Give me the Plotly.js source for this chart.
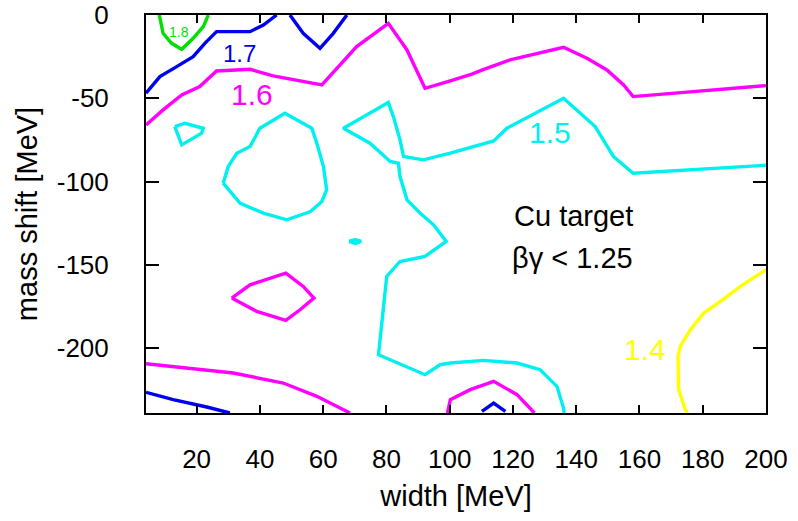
<!DOCTYPE html>
<html>
<head>
<meta charset="utf-8">
<script src="https://cdn.plot.ly/plotly-3.0.1.min.js"></script>
<style>html,body{margin:0;padding:0;background:#fff;}#chart{width:798px;height:521px;}</style>
</head>
<body>
<div id="chart"></div>
<script>
// Contour levels and colours
const levels = ["1.8", "1.7", "1.6", "1.5", "1.4"];
const levelColors = {"1.8": "#00e000", "1.7": "#0000f0", "1.6": "#ff00ff", "1.5": "#00f0f0", "1.4": "#ffff00"};

// Axis ticks
const xTickVals = [20, 40, 60, 80, 100, 120, 140, 160, 180, 200];
const yTickVals = [0, -50, -100, -150, -200];
const yTickText = ["0", "-50", "-100", "-150", "-200"];

// Contour line segments (width [MeV], mass shift [MeV])
const c18_x = [8.2, 9.4, 12.1, 15.3, 18.9, 22.1, 23.7];
const c18_y = [0, -11, -17, -20.6, -14, -7, 0];

const c17a_x = [4, 8.4, 13.7, 18.9, 22.6, 26.3, 36.9, 41.1, 45.3];
const c17a_y = [-47, -37, -31, -25, -17, -10, -10, -6, 0];
const c17b_x = [49.5, 53.7, 59, 63.2, 67.5];
const c17b_y = [0, -11, -20, -11, 0];
const c17c_x = [4, 12.6, 23.2, 30.5];
const c17c_y = [-226.6, -231, -235.4, -239];
const c17d_x = [110.2, 113.9, 117.6];
const c17d_y = [-238, -233, -238];

const c16a_x = [4, 9.4, 15.3, 21, 26.3, 36.9, 44.2, 59.6, 70.6, 80.6, 86.5, 92.2, 100.2, 107, 111, 119.1, 136, 143.4, 149.7, 155, 158, 200];
const c16a_y = [-66, -57, -48, -43, -33.6, -32.6, -36.6, -42, -19, -5, -21, -44, -39.5, -35.5, -32.5, -27, -19.4, -26, -33, -42, -49, -42.4];
const c16b_x = [31.1, 36.9, 48.2, 53.7, 57.1, 52.7, 48.2, 39, 31.1];
const c16b_y = [-170, -162, -155, -163, -170, -177, -183.4, -178, -170];
const c16c_x = [4, 17.9, 31.6, 47.4, 58, 68.5];
const c16c_y = [-209.4, -212, -215, -221, -229, -239];
const c16d_x = [99.3, 100.2, 106.5, 113.9, 121.3, 126.8];
const c16d_y = [-239, -231, -225, -220, -228, -239];

const c15a_x = [200, 158, 151.8, 146, 136, 118.1, 113.9, 100.2, 91.7, 85.4, 84.3, 82.2, 80.6, 66.4,
                74.8, 81.2, 83.8, 84.3, 86.5, 90.7, 94.9, 98.9, 92.2, 84.3, 80.1, 78.9, 77.5, 92.2, 97, 100.2, 110.7, 121.3, 128.6, 133.9, 136, 136.2];
const c15a_y = [-90.2, -95, -85, -67, -50, -68, -75.6, -83, -87, -85, -75, -61, -52.6, -68,
                -77, -88, -89, -97, -111, -119, -126, -136, -145, -148, -157, -177, -204, -216, -210, -209, -207.4, -209, -213, -223, -236, -239];
const c15b_x = [28.4, 30, 32.7, 36.9, 40, 47.9, 56.4, 58, 60.1, 61.1, 59.6, 56, 48.5, 41.1, 33.7, 28.4];
const c15b_y = [-101, -91, -83, -79, -68, -59, -68, -77, -91, -105, -112, -118, -123, -119, -113, -101];
const c15c_x = [13.1, 16.3, 22.1, 21.6, 15.3, 13.1];
const c15c_y = [-67, -65, -68, -71, -78, -67];
const c15d_x = [68.2, 70.1, 72, 70.1, 68.2];
const c15d_y = [-136, -134.8, -136, -137.2, -136];

const c14_x = [200, 191.9, 186.6, 180.3, 176.1, 172.9, 172.2, 172.4, 174.5, 175.2];
const c14_y = [-153, -163, -170.6, -179, -189, -199, -205, -225, -237, -239];

// Contour level labels
const labelText = ["1.8", "1.7", "1.6", "1.5", "1.4"];
const labelX = [14.4, 33.7, 37.4, 131.8, 161.9];
const labelY = [-10.2, -23, -47.6, -70.6, -200.6];

const segments = [
  ["1.8", c18_x, c18_y],
  ["1.7", c17a_x, c17a_y], ["1.7", c17b_x, c17b_y], ["1.7", c17c_x, c17c_y], ["1.7", c17d_x, c17d_y],
  ["1.6", c16a_x, c16a_y], ["1.6", c16b_x, c16b_y], ["1.6", c16c_x, c16c_y], ["1.6", c16d_x, c16d_y],
  ["1.5", c15a_x, c15a_y], ["1.5", c15b_x, c15b_y], ["1.5", c15c_x, c15c_y], ["1.5", c15d_x, c15d_y],
  ["1.4", c14_x, c14_y]
];

const traces = segments.map(s => ({
  type: "scatter", mode: "lines", x: s[1], y: s[2],
  line: {color: levelColors[s[0]], width: 3.4},
  showlegend: false, hoverinfo: "skip", cliponaxis: true
}));

const labelSizes = {"1.8": 14, "1.7": 24, "1.6": 30, "1.5": 30, "1.4": 30};
const annotations = labelText.map((t, i) => ({
  x: labelX[i], y: labelY[i], xref: "x", yref: "y", text: t, showarrow: false,
  font: {family: "Liberation Sans, Arial, sans-serif", size: labelSizes[t], color: levelColors[t]},
  xanchor: "center", yanchor: "middle"
}));
annotations.push({x: 119.6, y: -120.6, xref: "x", yref: "y", text: "Cu target", showarrow: false,
  font: {family: "Liberation Sans, Arial, sans-serif", size: 29, color: "#000"}, xanchor: "left", yanchor: "middle"});
annotations.push({x: 119.2, y: -146, xref: "x", yref: "y", text: "βγ < 1.25", showarrow: false,
  font: {family: "Liberation Sans, Arial, sans-serif", size: 29, color: "#000"}, xanchor: "left", yanchor: "middle"});

const layout = {
  width: 798, height: 521,
  margin: {l: 146, r: 32, t: 15, b: 108},
  paper_bgcolor: "#fff", plot_bgcolor: "#fff",
  font: {family: "Liberation Sans, Arial, sans-serif", color: "#000"},
  showlegend: false,
  xaxis: {
    range: [4, 200], tickmode: "array", tickvals: xTickVals,
    ticks: "inside", ticklen: 8, tickwidth: 2, tickcolor: "#000",
    showline: true, linewidth: 2, linecolor: "#000", mirror: "allticks",
    showgrid: false, zeroline: false,
    tickfont: {size: 26}, ticklabelstandoff: 22,
    title: {text: "width [MeV]", font: {size: 29}, standoff: 12}
  },
  yaxis: {
    range: [-239, 0], tickmode: "array", tickvals: yTickVals, ticktext: yTickText,
    ticks: "inside", ticklen: 13, tickwidth: 2, tickcolor: "#000",
    showline: true, linewidth: 2, linecolor: "#000", mirror: "allticks",
    showgrid: false, zeroline: false,
    tickfont: {size: 26}, ticklabelstandoff: 30,
    title: {text: "mass shift [MeV]", font: {size: 29}, standoff: 11}
  },
  annotations: annotations
};

Plotly.newPlot("chart", traces, layout, {staticPlot: true, displayModeBar: false});
</script>
</body>
</html>
